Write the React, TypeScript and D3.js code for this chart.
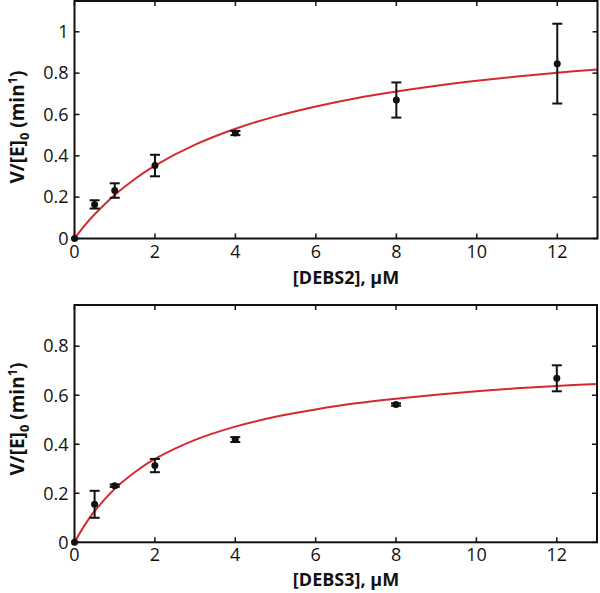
import { useEffect, useRef } from 'react';
import * as d3 from 'd3';

// measured substrate concentrations (uM)
const concentrations = [0, 0.5, 1, 2, 4, 8, 12];

// DEBS2 panel: rates and error bars
const debs2Rates = [0, 0.165, 0.232, 0.353, 0.51, 0.67, 0.846];
const debs2Errors = [0, 0.02, 0.035, 0.052, 0.01, 0.085, 0.193];

// DEBS3 panel: rates and error bars
const debs3Rates = [0, 0.155, 0.231, 0.313, 0.419, 0.562, 0.669];
const debs3Errors = [0, 0.055, 0.005, 0.027, 0.01, 0.005, 0.053];

// fitted curves
const curveX = [0, 0.25, 0.5, 1, 1.5, 2, 3, 4, 5, 6, 7, 8, 9, 10, 11, 12, 13];
const debs2Curve = [0, 0.062, 0.117, 0.211, 0.288, 0.353, 0.454, 0.531, 0.591, 0.639, 0.679, 0.711, 0.739, 0.763, 0.784, 0.802, 0.818];
const debs3Curve = [0, 0.069, 0.127, 0.218, 0.286, 0.34, 0.418, 0.472, 0.512, 0.542, 0.567, 0.586, 0.602, 0.616, 0.628, 0.638, 0.646];

const xTicks = [0, 2, 4, 6, 8, 10, 12];
const debs2YTicks = [0, 0.2, 0.4, 0.6, 0.8, 1];
const debs3YTicks = [0, 0.2, 0.4, 0.6, 0.8];

const FONT = "'Open Sans', 'DejaVu Sans', sans-serif";

function drawPanel(svg, opts) {
    const { top, bottom, left, right, yMax, yTicks, rates, errors, curve, xLabel, xLabelY, yLabelY } = opts;

    const x = d3.scaleLinear().domain([0, 13]).range([left, right]);
    const y = d3.scaleLinear().domain([0, yMax]).range([bottom, top]);

    const g = svg.append('g');

    // fitted curve
    const line = d3.line()
        .x((d, i) => x(curveX[i]))
        .y(d => y(d))
        .curve(d3.curveCatmullRom);
    g.append('path')
        .attr('d', line(curve))
        .attr('fill', 'none')
        .attr('stroke', '#d42a2f')
        .attr('stroke-width', 2);

    // error bars
    const capW = 5;
    concentrations.forEach((c, i) => {
        const err = errors[i];
        if (err <= 0) return;
        const cx = x(c);
        const y1 = y(rates[i] + err);
        const y0 = y(rates[i] - err);
        g.append('line').attr('x1', cx).attr('x2', cx).attr('y1', y1).attr('y2', y0)
            .attr('stroke', '#111').attr('stroke-width', 2);
        [y1, y0].forEach(yy => {
            g.append('line').attr('x1', cx - capW).attr('x2', cx + capW).attr('y1', yy).attr('y2', yy)
                .attr('stroke', '#111').attr('stroke-width', 2);
        });
    });

    g.selectAll('circle.pt')
        .data(concentrations)
        .join('circle')
        .attr('class', 'pt')
        .attr('cx', d => x(d))
        .attr('cy', (d, i) => y(rates[i]))
        .attr('r', 3.5)
        .attr('fill', '#111');

    // frame
    g.append('rect')
        .attr('x', left).attr('y', top)
        .attr('width', right - left).attr('height', bottom - top)
        .attr('fill', 'none').attr('stroke', '#111').attr('stroke-width', 2);

    // inward ticks on all four sides
    const tl = 5;
    xTicks.forEach(t => {
        g.append('line').attr('x1', x(t)).attr('x2', x(t)).attr('y1', bottom).attr('y2', bottom - tl)
            .attr('stroke', '#111').attr('stroke-width', 1.5);
        g.append('line').attr('x1', x(t)).attr('x2', x(t)).attr('y1', top).attr('y2', top + tl)
            .attr('stroke', '#111').attr('stroke-width', 1.5);
        g.append('text').attr('x', x(t)).attr('y', bottom + 19)
            .attr('text-anchor', 'middle').attr('font-family', FONT).attr('font-size', 18)
            .attr('fill', '#111').text(t);
    });
    yTicks.forEach(t => {
        g.append('line').attr('x1', left).attr('x2', left + tl).attr('y1', y(t)).attr('y2', y(t))
            .attr('stroke', '#111').attr('stroke-width', 1.5);
        g.append('line').attr('x1', right).attr('x2', right - tl).attr('y1', y(t)).attr('y2', y(t))
            .attr('stroke', '#111').attr('stroke-width', 1.5);
        g.append('text').attr('x', left - 6).attr('y', y(t)).attr('dy', '0.35em')
            .attr('text-anchor', 'end').attr('font-family', FONT).attr('font-size', 18)
            .attr('fill', '#111').text(t);
    });

    // axis titles
    g.append('text').attr('x', 346).attr('y', xLabelY)
        .attr('text-anchor', 'middle').attr('font-family', FONT).attr('font-size', 18)
        .attr('font-weight', 'bold').attr('fill', '#111').text(xLabel);

    const yl = g.append('text')
        .attr('transform', `translate(24, ${yLabelY}) rotate(-90)`)
        .attr('text-anchor', 'middle').attr('font-family', FONT).attr('font-size', 19)
        .attr('font-weight', 'bold').attr('fill', '#111');
    yl.append('tspan').text('V/[E]');
    yl.append('tspan').attr('dy', 5).attr('font-size', 13).text('0');
    yl.append('tspan').attr('dy', -5).text(' (min');
    yl.append('tspan').attr('dy', -7).attr('font-size', 13).text('1');
    yl.append('tspan').attr('dy', 7).text(')');
}

function App() {
    const svgRef = useRef(null);

    useEffect(() => {
        const svg = d3.select(svgRef.current);
        svg.selectAll('*').remove();

        drawPanel(svg, {
            top: 1, bottom: 238.5, left: 74.5, right: 597.5, yMax: 1.149,
            yTicks: debs2YTicks, rates: debs2Rates, errors: debs2Errors, curve: debs2Curve,
            xLabel: '[DEBS2], µM', xLabelY: 284, yLabelY: 127
        });
        drawPanel(svg, {
            top: 305, bottom: 542.3, left: 74.5, right: 597, yMax: 0.968,
            yTicks: debs3YTicks, rates: debs3Rates, errors: debs3Errors, curve: debs3Curve,
            xLabel: '[DEBS3], µM', xLabelY: 586, yLabelY: 419
        });
    }, []);

    return (
        <div style={{ position: 'absolute', left: 0, top: 0 }}>
            <svg ref={svgRef} width={600} height={593} style={{ display: 'block', background: '#fff' }} />
        </div>
    );
}

export default App;
